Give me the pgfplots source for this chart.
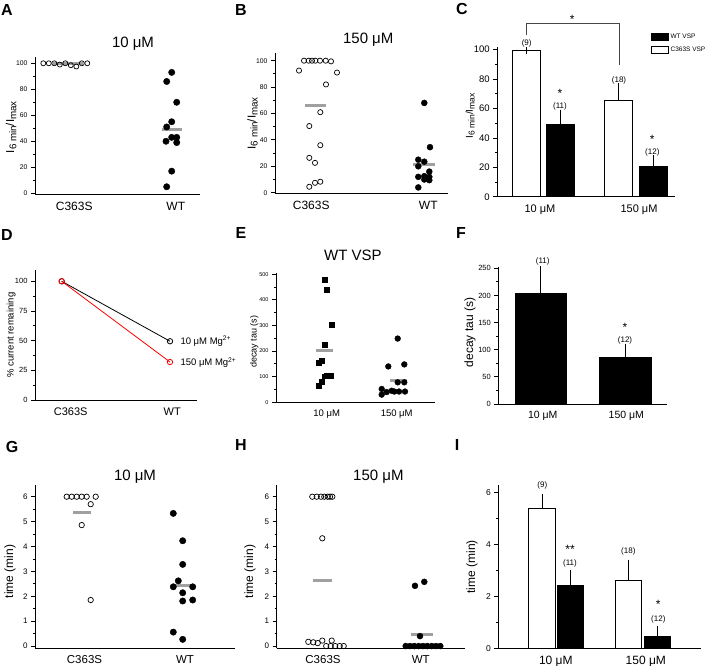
\documentclass[border=0pt]{standalone}
\usepackage{fontspec}
\setmainfont{Liberation Sans}
\usepackage{graphicx}
\usepackage{pgfplots}
\pgfplotsset{compat=1.18}
\definecolor{meangray}{RGB}{160,160,160}
\definecolor{brk}{RGB}{70,70,70}
\newcommand{\fs}[1]{\fontsize{#1}{#1}\selectfont}
\newcommand{\lo}[1]{\raisebox{-0.35ex}{\scalebox{0.85}{#1}}}
\newcommand{\ilab}{I\lo{6 min}/I\lo{max}}

\tikzset{
  nlab/.style={font=\fs{8}},
  sig/.style={font=\fs{12}, yshift=-2.5pt},
}
\pgfplotsset{
  panel/.style={
    scale only axis, anchor=south west, clip=false,
    axis lines*=left,
    axis line style={-, line width=0.9pt},
    tick align=outside, major tick length=4pt, minor tick length=2.2pt,
    tick style={black, line width=0.8pt},
    minor y tick num=1,
    xtick style={draw=none}, xmin=0,
    every axis title shift=0pt,
    /pgf/number format/assume math mode=true,
  },
  meanbar/.style={meangray, line width=3pt, forget plot},
  open/.style={only marks, mark=o, mark size=2.6pt, black, mark options={line width=0.7pt}},
  dots/.style={only marks, mark=*, mark size=3pt, black},
  boxlegend/.style={legend image code/.code={\draw[##1] (0pt,-3.5pt) rectangle (17pt,3.5pt);}},
  barerr/.style={error bars/.cd, y dir=plus, y explicit,
    error bar style={line width=0.9pt, black},
    error mark options={mark size=3.3pt, line width=0.9pt, black}},
}

\begin{document}
\begin{tikzpicture}
\useasboundingbox (0pt,0pt) rectangle (713pt,-666pt);

% panel letters
\begin{scope}[every node/.style={font=\fs{16}\bfseries, anchor=center}]
\node at (7pt,-10pt) {A};
\node at (241pt,-10pt) {B};
\node at (462pt,-9pt) {C};
\node at (7pt,-235pt) {D};
\node at (241pt,-233pt) {E};
\node at (461pt,-233pt) {F};
\node at (12pt,-447pt) {G};
\node at (241pt,-445pt) {H};
\node at (457pt,-445pt) {I};
\end{scope}

% A
\begin{axis}[panel, at={(35pt,-194.3pt)}, width=165pt, height=137pt,
  xmax=165, ymin=-0.8, ymax=104.6,
  ytick={0,20,...,100}, xtick={39.2,140.8}, xticklabels={C363S,WT},
  yticklabel style={font=\fs{6.8}}, xticklabel style={font=\fs{12}},
  ylabel={\ilab},
  ylabel style={at={(axis description cs:-0.145,0.49)}, anchor=center, font=\fs{11.5}},
  title={10 μM}, title style={at={(axis description cs:0.594,1.097)}, anchor=center, font=\fs{15}}]
\addplot[open, mark size=2.5pt] coordinates {(8.3,100) (13.8,100) (19.3,100) (24.8,99) (30.3,100) (35.8,98.5) (41.3,97.5) (46.8,100) (52.3,100)};
\addplot[dots, mark size=3.2pt] coordinates {(136.7,93) (131.7,86) (141.7,70) (136.7,55) (131.7,51) (136.7,43) (141.7,43) (131,40) (141.7,39) (136.7,17) (131.7,5)};
\addplot[meanbar] coordinates {(18,99.5) (48,99.5)};
\addplot[meanbar] coordinates {(126.7,49.3) (146.7,49.3)};
\end{axis}

% B
\begin{axis}[panel, at={(275pt,-193.3pt)}, width=173.3pt, height=140pt,
  xmax=173.3, ymin=-0.45, ymax=105.6,
  ytick={0,20,...,100}, xtick={36.2,153.3}, xticklabels={C363S,WT},
  yticklabel style={font=\fs{6.8}}, xticklabel style={font=\fs{12}},
  ylabel={\ilab},
  ylabel style={at={(axis description cs:-0.13,0.5)}, anchor=center, font=\fs{11.5}},
  title={150 μM}, title style={at={(axis description cs:0.538,1.095)}, anchor=center, font=\fs{15}}]
\addplot[open] coordinates {(24,92.5) (29,100) (33.7,100) (37,100) (40.3,100) (45,100) (50.7,100) (56,99.5) (62,91) (51,82) (45.3,61) (34.3,50.5) (45.3,36) (34.3,26.4) (40,22.6) (34.3,4.5) (40,7.5) (45.3,8.3)};
\addplot[dots] coordinates {(149.3,68) (155,34.5) (143.3,25) (149.3,23.5) (143.3,20) (154.3,16) (143.3,12) (154.3,12) (149.3,10) (154.3,9.5) (149.3,12.5) (143.3,4)};
\addplot[meanbar] coordinates {(30,65.7) (51,65.7)};
\addplot[meanbar] coordinates {(138.3,21) (160,21)};
\end{axis}

% C
\begin{axis}[panel, at={(497.3pt,-196.9pt)}, width=177.7pt, height=150pt,
  xmax=177.7, ymin=0, ymax=101.8,
  ytick={0,20,...,100}, xtick={42.7,141.7}, xticklabels={10 μM,150 μM},
  yticklabel style={font=\fs{9.5}}, xticklabel style={font=\fs{11}},
  ylabel={\ilab},
  ylabel style={at={(axis description cs:-0.153,0.54)}, anchor=center, font=\fs{10}},
  legend style={at={(axis description cs:0.862,1.10)}, anchor=north west, draw=none, fill=none,
    font=\fs{6.5}, inner sep=0pt, row sep=3pt},
  legend cell align=left]
\addplot[ybar, bar width=27.7, bar shift=0pt, fill=black, draw=black, line width=0.9pt, boxlegend, barerr]
  coordinates {(63.2,49.3) +- (0,7.7) (156,20.5) +- (0,5.5)};
\addplot[ybar, bar width=27.7, bar shift=0pt, fill=white, draw=black, line width=0.9pt, boxlegend, barerr]
  coordinates {(28.9,99.5) +- (0,0) (121,65.7) +- (0,9.5)};
\addplot[brk, line width=1pt, forget plot] coordinates {(28.7,110) (28.7,118) (121.7,118) (121.7,89.2)};
\node[sig] at (axis cs:75,122.2) {*};
\node[nlab] at (axis cs:29.4,104) {(9)};
\node[sig] at (axis cs:62.7,72) {*};
\node[nlab] at (axis cs:62.7,61.6) {(11)};
\node[nlab] at (axis cs:121.7,79.2) {(18)};
\node[sig] at (axis cs:155,40.7) {*};
\node[nlab] at (axis cs:155,29.9) {(12)};
\legend{WT VSP, C363S VSP}
\end{axis}

% D
\begin{axis}[panel, at={(35pt,-400.3pt)}, width=161.7pt, height=130.3pt,
  xmax=161.7, ymin=-0.25, ymax=109.5,
  ytick={0,25,...,100}, xtick={35.7,137.3}, xticklabels={C363S,WT},
  yticklabel style={font=\fs{7.5}}, xticklabel style={font=\fs{11}},
  ylabel={\% current remaining},
  ylabel style={at={(axis description cs:-0.148,0.5)}, anchor=center, font=\fs{9.5}}]
\addplot[black, line width=0.8pt, mark=o, mark size=2.7pt, mark options={fill=white}] coordinates {(26.7,100) (135,49.5)};
\addplot[red, line width=0.8pt, mark=o, mark size=2.7pt, mark options={fill=white}] coordinates {(26.7,100) (135,32)};
\node[anchor=west, font=\fs{9.5}] at (axis cs:142,49.5) {10 μM Mg\textsuperscript{2+}};
\node[anchor=west, font=\fs{9.5}] at (axis cs:142,31.5) {150 μM Mg\textsuperscript{2+}};
\end{axis}

% E
\begin{axis}[panel, at={(276pt,-402.3pt)}, width=159pt, height=129.3pt,
  xmax=159, ymin=0, ymax=505,
  ytick={0,100,...,500}, xtick={50.7,120.7}, xticklabels={10 μM,150 μM},
  yticklabel style={font=\fs{5.5}}, xticklabel style={font=\fs{9.5}},
  ylabel={decay tau (s)},
  ylabel style={at={(axis description cs:-0.137,0.47)}, anchor=center, font=\fs{9}},
  title={WT VSP}, title style={at={(axis description cs:0.484,1.139)}, anchor=center, font=\fs{15}}]
\addplot[only marks, mark=square*, mark size=2.4pt, black] coordinates {(48.3,480) (50.7,441) (55.3,302) (48.7,224) (45.3,164) (42.3,155) (55,103) (50.3,105) (48.3,102) (45.3,82) (42.3,66)};
\addplot[dots, mark size=2.9pt] coordinates {(121.7,249) (112.3,140) (128.3,148) (121.7,78) (128.3,78) (105.7,52) (115.7,45) (110.7,40) (105.7,30) (118.3,42) (123,42) (129,42)};
\addplot[meanbar] coordinates {(40,203) (57,203)};
\addplot[meanbar] coordinates {(114,85) (130.7,85)};
\end{axis}

% F
\begin{axis}[panel, at={(498.3pt,-404pt)}, width=169pt, height=137.3pt,
  xmax=169, ymin=0, ymax=253,
  ytick={0,50,...,250}, xtick={44.5,128}, xticklabels={10 μM,150 μM},
  yticklabel style={font=\fs{7.5}}, xticklabel style={font=\fs{10.5}},
  ylabel={decay tau (s)},
  ylabel style={at={(axis description cs:-0.167,0.52)}, anchor=center, font=\fs{12}}]
\addplot[ybar, bar width=51.5, bar shift=0pt, fill=black, draw=black, line width=0.9pt, barerr]
  coordinates {(42.5,204) +- (0,44) (127.2,85) +- (0,19.5)};
\node[nlab] at (axis cs:44.4,262) {(11)};
\node[sig] at (axis cs:126.7,146) {*};
\node[nlab] at (axis cs:126.7,118) {(12)};
\end{axis}

% G
\begin{axis}[panel, at={(35pt,-648.3pt)}, width=200pt, height=163.3pt,
  xmax=200, ymin=-0.09, ymax=6.47,
  ytick={0,...,6}, xtick={49.5,150}, xticklabels={C363S,WT},
  yticklabel style={font=\fs{8}}, xticklabel style={font=\fs{11.5}},
  ylabel={time (min)},
  ylabel style={at={(axis description cs:-0.125,0.47)}, anchor=center, font=\fs{12}},
  title={10 μM}, title style={at={(axis description cs:0.5,1.05)}, anchor=center, font=\fs{15}}]
\addplot[open, mark size=2.7pt] coordinates {(31.7,6) (36.7,6) (41.7,6) (46.7,6) (51.7,6) (60.7,6) (55.7,5.7) (46.7,4.86) (55.7,1.85)};
\addplot[dots, mark size=3.2pt] coordinates {(138.3,5.33) (147.7,4.23) (147.7,3.28) (143.3,2.62) (138.3,2.38) (157.7,2.38) (147.7,2.14) (147.7,1.81) (157.7,1.85) (138.3,0.56) (147.7,0.27)};
\addplot[meanbar] coordinates {(38.3,5.38) (55.7,5.38)};
\addplot[meanbar] coordinates {(141,2.44) (157.7,2.44)};
\end{axis}

% H
\begin{axis}[panel, at={(276.7pt,-648.3pt)}, width=188.3pt, height=163.3pt,
  xmax=188.3, ymin=-0.09, ymax=6.47,
  ytick={0,...,6}, xtick={46.3,144.1}, xticklabels={C363S,WT},
  yticklabel style={font=\fs{8}}, xticklabel style={font=\fs{11.5}},
  ylabel={time (min)},
  ylabel style={at={(axis description cs:-0.142,0.47)}, anchor=center, font=\fs{12}},
  title={150 μM}, title style={at={(axis description cs:0.54,1.05)}, anchor=center, font=\fs{15}}]
\addplot[open, mark size=2.7pt] coordinates {(35.6,6) (40,6) (44.3,6) (47.6,6) (51,6) (53.3,6) (55.6,6) (45.6,4.33) (31.6,0.17) (36.6,0.15) (41,0.12) (45.6,0.22) (55,0.22) (49.5,0) (54,0) (58.5,0) (63,0) (67,0)};
\addplot[dots, mark size=3pt] coordinates {(138.3,2.42) (147.6,2.58) (143.3,0.4) (129,0) (133.3,0) (137.6,0) (142,0) (146.3,0) (150.6,0) (155,0) (159.3,0) (163.6,0)};
\addplot[meanbar] coordinates {(36.6,2.62) (55,2.62)};
\addplot[meanbar] coordinates {(134.3,0.46) (156.6,0.46)};
\end{axis}

% I
\begin{axis}[panel, at={(498.3pt,-648.3pt)}, width=202.4pt, height=163.2pt,
  xmax=202.4, ymin=0, ymax=6.3,
  ytick={0,2,4,6}, xtick={57.5,147.5}, xticklabels={10 μM,150 μM},
  yticklabel style={font=\fs{8.5}}, xticklabel style={font=\fs{12}},
  ylabel={time (min)},
  ylabel style={at={(axis description cs:-0.13,0.5)}, anchor=center, font=\fs{12}}]
\addplot[ybar, bar width=26.3, bar shift=0pt, fill=white, draw=black, line width=0.9pt, barerr]
  coordinates {(43.7,5.38) +- (0,0.46) (130.4,2.62) +- (0,0.68)};
\addplot[ybar, bar width=26.3, bar shift=0pt, fill=black, draw=black, line width=0.9pt, barerr]
  coordinates {(72.4,2.44) +- (0,0.44) (159.2,0.45) +- (0,0.28)};
\node[nlab] at (axis cs:44,6.28) {(9)};
\node[sig] at (axis cs:71.7,3.92) {**};
\node[nlab] at (axis cs:71.7,3.28) {(11)};
\node[nlab] at (axis cs:130,3.73) {(18)};
\node[sig] at (axis cs:160,1.8) {*};
\node[nlab] at (axis cs:160,1.12) {(12)};
\end{axis}
\end{tikzpicture}
\end{document}
